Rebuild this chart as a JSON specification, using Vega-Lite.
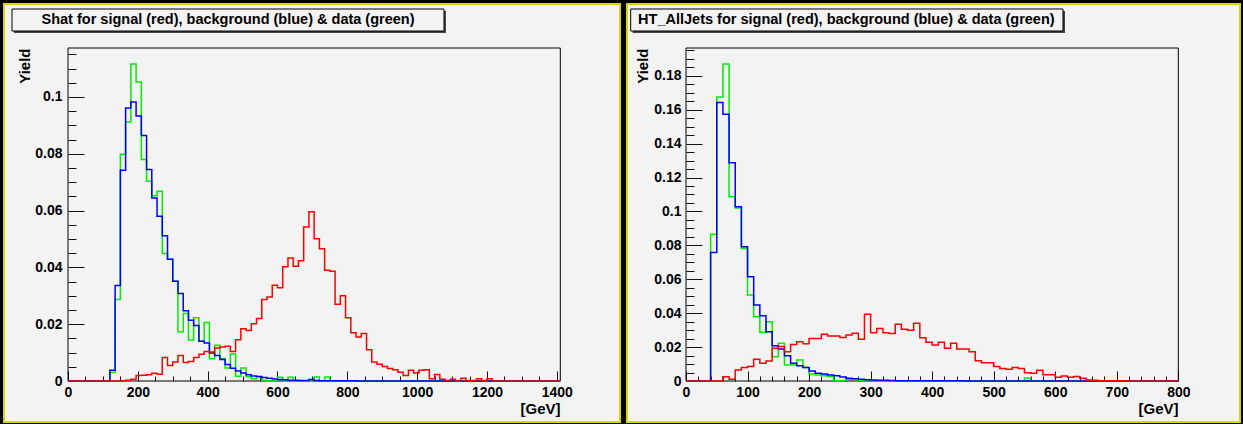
{
  "$schema": "https://vega.github.io/schema/vega-lite/v6.json",
  "background": "#000000",
  "padding": {"left": 3, "top": 3, "right": 2, "bottom": 1},
  "autosize": {"type": "pad"},
  "spacing": 5,
  "config": {
    "view": {"fill": "#f3f3f3", "stroke": "#d8d800", "strokeWidth": 2},
    "axis": {
      "labelFont": "Liberation Sans", "labelFontWeight": "bold", "labelFontSize": 14, "labelColor": "#000000",
      "titleFont": "Liberation Sans", "titleFontWeight": "bold", "titleFontSize": 15, "titleColor": "#000000",
      "grid": false, "labelFlush": false, "labelOverlap": false, "labelBound": false,
      "tickColor": "#111111", "tickWidth": 1
    }
  },
  "datasets": {
    "left": [
      {"e":0,"r":0,"b":0,"g":0},{"e":15,"r":0,"b":0,"g":0},{"e":30,"r":0,"b":0,"g":0},{"e":45,"r":0,"b":0,"g":0},
      {"e":60,"r":0,"b":0,"g":0},{"e":75,"r":0,"b":0,"g":0},{"e":90,"r":0,"b":0,"g":0},{"e":105,"r":0,"b":0,"g":0},
      {"e":120,"r":0,"b":0.0038,"g":0.0030},{"e":135,"r":0,"b":0.0336,"g":0.0287},{"e":150,"r":0,"b":0.0742,"g":0.0798},
      {"e":165,"r":0.0003,"b":0.0961,"g":0.0912},{"e":180,"r":0.0006,"b":0.0982,"g":0.1116},{"e":195,"r":0.0019,"b":0.0933,"g":0.1053},
      {"e":210,"r":0.0020,"b":0.0864,"g":0.0780},{"e":225,"r":0.0022,"b":0.0745,"g":0.0703},{"e":240,"r":0.0027,"b":0.0644,"g":0.0652},
      {"e":255,"r":0.0024,"b":0.0580,"g":0.0668},{"e":270,"r":0.0083,"b":0.0511,"g":0.0449},{"e":285,"r":0.0055,"b":0.0429,"g":0.0429},
      {"e":300,"r":0.0067,"b":0.0351,"g":0.0351},{"e":315,"r":0.0090,"b":0.0308,"g":0.0173},{"e":330,"r":0.0065,"b":0.0247,"g":0.0238},
      {"e":345,"r":0.0069,"b":0.0214,"g":0.0144},{"e":360,"r":0.0083,"b":0.0195,"g":0.0223},{"e":375,"r":0.0094,"b":0.0140,"g":0.0140},
      {"e":390,"r":0.0104,"b":0.0134,"g":0.0206},{"e":405,"r":0.0102,"b":0.0099,"g":0.0078},{"e":420,"r":0.0116,"b":0.0090,"g":0.0126},
      {"e":435,"r":0.0120,"b":0.0076,"g":0.0079},{"e":450,"r":0.0122,"b":0.0058,"g":0.0046},{"e":465,"r":0.0104,"b":0.0045,"g":0.0095},
      {"e":480,"r":0.0145,"b":0.0035,"g":0.0017},{"e":495,"r":0.0184,"b":0.0028,"g":0.0046},{"e":510,"r":0.0178,"b":0.0022,"g":0.0015},
      {"e":525,"r":0.0202,"b":0.0018,"g":0.0008},{"e":540,"r":0.0220,"b":0.0016,"g":0.0015},{"e":555,"r":0.0287,"b":0.0012,"g":0.0003},
      {"e":570,"r":0.0296,"b":0.0010,"g":0},{"e":585,"r":0.0337,"b":0.0007,"g":0},{"e":600,"r":0.0328,"b":0.0005,"g":0.0013},
      {"e":615,"r":0.0402,"b":0.0004,"g":0},{"e":630,"r":0.0433,"b":0.0003,"g":0.0013},{"e":645,"r":0.0404,"b":0.0003,"g":0},
      {"e":660,"r":0.0423,"b":0.0002,"g":0},{"e":675,"r":0.0542,"b":0.0002,"g":0},{"e":690,"r":0.0596,"b":0.0005,"g":0},
      {"e":705,"r":0.0501,"b":0.0002,"g":0.0014},{"e":720,"r":0.0466,"b":0.0001,"g":0},{"e":735,"r":0.0390,"b":0.0001,"g":0.0014},
      {"e":750,"r":0.0386,"b":0.0001,"g":0},{"e":765,"r":0.0270,"b":0.0001,"g":0},{"e":780,"r":0.0300,"b":0.0001,"g":0},
      {"e":795,"r":0.0223,"b":0.0001,"g":0},{"e":810,"r":0.0170,"b":0.0001,"g":0},{"e":825,"r":0.0155,"b":0,"g":0},
      {"e":840,"r":0.0167,"b":0,"g":0},{"e":855,"r":0.0110,"b":0,"g":0},{"e":870,"r":0.0067,"b":0,"g":0},
      {"e":885,"r":0.0059,"b":0,"g":0},{"e":900,"r":0.0051,"b":0,"g":0},{"e":915,"r":0.0044,"b":0,"g":0},
      {"e":930,"r":0.0040,"b":0,"g":0},{"e":945,"r":0.0031,"b":0,"g":0},{"e":960,"r":0.0019,"b":0,"g":0},
      {"e":975,"r":0.0038,"b":0,"g":0},{"e":990,"r":0.0028,"b":0,"g":0},{"e":1005,"r":0.0038,"b":0,"g":0},
      {"e":1020,"r":0.0040,"b":0,"g":0},{"e":1035,"r":0.0008,"b":0,"g":0},{"e":1050,"r":0.0023,"b":0,"g":0},
      {"e":1065,"r":0.0006,"b":0,"g":0},{"e":1080,"r":0.0002,"b":0,"g":0},{"e":1095,"r":0.0006,"b":0,"g":0},
      {"e":1110,"r":0,"b":0,"g":0},{"e":1125,"r":0.0010,"b":0,"g":0},{"e":1140,"r":0.0002,"b":0,"g":0},
      {"e":1155,"r":0.0002,"b":0,"g":0},{"e":1170,"r":0.0008,"b":0,"g":0},{"e":1185,"r":0.0002,"b":0,"g":0},
      {"e":1200,"r":0.0008,"b":0,"g":0},{"e":1215,"r":0,"b":0,"g":0},{"e":1230,"r":0,"b":0,"g":0},
      {"e":1245,"r":0,"b":0,"g":0},{"e":1260,"r":0,"b":0,"g":0},{"e":1275,"r":0,"b":0,"g":0},
      {"e":1290,"r":0,"b":0,"g":0},{"e":1305,"r":0,"b":0,"g":0},{"e":1320,"r":0,"b":0,"g":0},
      {"e":1335,"r":0,"b":0,"g":0},{"e":1350,"r":0,"b":0,"g":0},{"e":1365,"r":0,"b":0,"g":0},
      {"e":1380,"r":0,"b":0,"g":0},{"e":1395,"r":0,"b":0,"g":0},{"e":1410,"r":0,"b":0,"g":0}
    ],
    "right": [
      {"e":0,"r":0,"b":0,"g":0},{"e":10,"r":0,"b":0,"g":0},{"e":20,"r":0,"b":0,"g":0},{"e":30,"r":0,"b":0,"g":0},
      {"e":40,"r":0,"b":0.0758,"g":0.0866},{"e":50,"r":0,"b":0.1642,"g":0.1675},{"e":60,"r":0.0025,"b":0.1573,"g":0.1870},
      {"e":70,"r":0.0010,"b":0.1287,"g":0.1086},{"e":80,"r":0.0065,"b":0.1027,"g":0.1021},{"e":90,"r":0.0079,"b":0.0792,"g":0.0782},
      {"e":100,"r":0.0085,"b":0.0615,"g":0.0507},{"e":110,"r":0.0128,"b":0.0448,"g":0.0379},{"e":120,"r":0.0104,"b":0.0385,"g":0.0287},
      {"e":130,"r":0.0118,"b":0.0291,"g":0.0350},{"e":140,"r":0.0193,"b":0.0208,"g":0.0143},{"e":150,"r":0.0203,"b":0.0188,"g":0.0222},
      {"e":160,"r":0.0173,"b":0.0149,"g":0.0094},{"e":170,"r":0.0215,"b":0.0104,"g":0.0094},{"e":180,"r":0.0231,"b":0.0090,"g":0.0124},
      {"e":190,"r":0.0220,"b":0.0080,"g":0.0080},{"e":200,"r":0.0251,"b":0.0059,"g":0.0041},{"e":210,"r":0.0251,"b":0.0045,"g":0.0035},
      {"e":220,"r":0.0275,"b":0.0041,"g":0.0031},{"e":230,"r":0.0265,"b":0.0035,"g":0.0026},{"e":240,"r":0.0265,"b":0.0031,"g":0.0003},
      {"e":250,"r":0.0257,"b":0.0024,"g":0.0003},{"e":260,"r":0.0271,"b":0.0016,"g":0.0010},{"e":270,"r":0.0281,"b":0.0014,"g":0.0012},
      {"e":280,"r":0.0246,"b":0.0010,"g":0.0004},{"e":290,"r":0.0393,"b":0.0008,"g":0.0003},{"e":300,"r":0.0285,"b":0.0006,"g":0},
      {"e":310,"r":0.0310,"b":0.0005,"g":0},{"e":320,"r":0.0285,"b":0.0004,"g":0},{"e":330,"r":0.0280,"b":0.0003,"g":0},
      {"e":340,"r":0.0335,"b":0.0002,"g":0},{"e":350,"r":0.0305,"b":0.0002,"g":0},{"e":360,"r":0.0300,"b":0.0002,"g":0},
      {"e":370,"r":0.0340,"b":0.0002,"g":0},{"e":380,"r":0.0255,"b":0.0002,"g":0},{"e":390,"r":0.0228,"b":0.0002,"g":0},
      {"e":400,"r":0.0212,"b":0.0002,"g":0},{"e":410,"r":0.0228,"b":0.0001,"g":0},{"e":420,"r":0.0193,"b":0.0001,"g":0},
      {"e":430,"r":0.0222,"b":0.0001,"g":0},{"e":440,"r":0.0188,"b":0.0001,"g":0},{"e":450,"r":0.0188,"b":0,"g":0},
      {"e":460,"r":0.0173,"b":0,"g":0},{"e":470,"r":0.0120,"b":0,"g":0},{"e":480,"r":0.0108,"b":0,"g":0},
      {"e":490,"r":0.0108,"b":0,"g":0},{"e":500,"r":0.0086,"b":0,"g":0},{"e":510,"r":0.0073,"b":0,"g":0},
      {"e":520,"r":0.0069,"b":0,"g":0},{"e":530,"r":0.0079,"b":0,"g":0},{"e":540,"r":0.0073,"b":0,"g":0},
      {"e":550,"r":0.0049,"b":0,"g":0.0018},{"e":560,"r":0.0045,"b":0,"g":0},{"e":570,"r":0.0063,"b":0,"g":0},
      {"e":580,"r":0.0037,"b":0,"g":0},{"e":590,"r":0.0037,"b":0,"g":0},{"e":600,"r":0.0022,"b":0,"g":0},
      {"e":610,"r":0.0029,"b":0,"g":0},{"e":620,"r":0.0022,"b":0,"g":0},{"e":630,"r":0.0026,"b":0,"g":0},
      {"e":640,"r":0.0016,"b":0,"g":0},{"e":650,"r":0.0006,"b":0,"g":0},{"e":660,"r":0.0004,"b":0,"g":0},
      {"e":670,"r":0.0002,"b":0,"g":0},{"e":680,"r":0.0002,"b":0,"g":0},{"e":690,"r":0.0002,"b":0,"g":0},
      {"e":700,"r":0.0001,"b":0,"g":0},{"e":710,"r":0.0002,"b":0,"g":0},{"e":720,"r":0,"b":0,"g":0},
      {"e":730,"r":0,"b":0,"g":0},{"e":740,"r":0,"b":0,"g":0},{"e":750,"r":0,"b":0,"g":0},
      {"e":760,"r":0,"b":0,"g":0},{"e":770,"r":0,"b":0,"g":0},{"e":780,"r":0,"b":0,"g":0},
      {"e":790,"r":0,"b":0,"g":0},{"e":800,"r":0,"b":0,"g":0}
    ]
  },
  "hconcat": [
    {
      "width": 616, "height": 418,
      "data": {"name": "left"},
      "resolve": {"axis": {"x": "independent", "y": "independent"}},
      "layer": [
        {
          "data": {"values": [{}]},
          "mark": {"type": "rect", "fill": "#444444"},
          "encoding": {
            "x": {"datum": -154.7, "type": "quantitative", "scale": {"domain": [0, 1410], "range": [64, 556.3], "nice": false, "zero": false}, "axis": null},
            "x2": {"datum": 1082.6},
            "y": {"datum": 0.13028, "type": "quantitative", "scale": {"domain": [0, 0.11725], "range": [377, 44], "nice": false, "zero": false}, "axis": null},
            "y2": {"datum": 0.12253}
          }
        },
        {
          "data": {"values": [{}]},
          "mark": {"type": "rect", "fill": "#f3f3f3", "stroke": "#000000", "strokeWidth": 1},
          "encoding": {
            "x": {"datum": -160.4, "type": "quantitative", "scale": {"domain": [0, 1410], "range": [64, 556.3], "nice": false, "zero": false}, "axis": null},
            "x2": {"datum": 1076.9},
            "y": {"datum": 0.13098, "type": "quantitative", "scale": {"domain": [0, 0.11725], "range": [377, 44], "nice": false, "zero": false}, "axis": null},
            "y2": {"datum": 0.12323}
          }
        },
        {
          "data": {"values": [{}]},
          "mark": {"type": "text", "text": "Shat for signal (red), background (blue) & data (green)", "font": "Liberation Sans", "fontWeight": "bold", "fontSize": 14.5, "align": "center", "baseline": "middle", "color": "#000000"},
          "encoding": {
            "x": {"datum": 458.3, "type": "quantitative", "scale": {"domain": [0, 1410], "range": [64, 556.3], "nice": false, "zero": false}, "axis": null},
            "y": {"datum": 0.12711, "type": "quantitative", "scale": {"domain": [0, 0.11725], "range": [377, 44], "nice": false, "zero": false}, "axis": null}
          }
        },
        {
          "data": {"values": [{}]},
          "mark": {"type": "rect", "fillOpacity": 0, "stroke": "#000000", "strokeWidth": 1},
          "encoding": {
            "x": {"datum": 0, "type": "quantitative", "scale": {"domain": [0, 1410], "range": [64, 556.3], "nice": false, "zero": false},
              "axis": {"orient": "bottom", "offset": -41, "values": [0, 200, 400, 600, 800, 1000, 1200, 1400], "ticks": false, "domain": false, "labelPadding": 4, "labelBaseline": "top", "format": "d",
                "title": "[GeV]", "titleX": 556, "titleY": 27, "titleAlign": "right", "titleBaseline": "middle", "titleAngle": 0}},
            "x2": {"datum": 1410},
            "y": {"datum": 0, "type": "quantitative", "scale": {"domain": [0, 0.11725], "range": [377, 44], "nice": false, "zero": false},
              "axis": {"orient": "left", "offset": -64, "values": [0, 0.02, 0.04, 0.06, 0.08, 0.1], "ticks": false, "domain": false, "labelPadding": 6, "labelExpr": "format(datum.value, '~g')",
                "title": "Yield", "titleX": -44, "titleY": 44, "titleAngle": -90, "titleAlign": "right", "titleBaseline": "middle"}},
            "y2": {"datum": 0.11725}
          }
        },
        {
          "mark": {"type": "line", "interpolate": "step-after", "color": "#00ee00", "strokeWidth": 1.5},
          "encoding": {
            "x": {"field": "e", "type": "quantitative", "scale": {"domain": [0, 1410], "range": [64, 556.3], "nice": false, "zero": false},
              "axis": {"orient": "bottom", "offset": -41, "values": [0, 200, 400, 600, 800, 1000, 1200, 1400], "labels": false, "domain": false, "tickSize": -10, "title": null}},
            "y": {"field": "g", "type": "quantitative", "scale": {"domain": [0, 0.11725], "range": [377, 44], "nice": false, "zero": false},
              "axis": {"orient": "left", "offset": -64, "values": [0, 0.02, 0.04, 0.06, 0.08, 0.1], "labels": false, "domain": false, "tickSize": -16, "title": null}}
          }
        },
        {
          "mark": {"type": "line", "interpolate": "step-after", "color": "#0000ff", "strokeWidth": 1.5},
          "encoding": {
            "x": {"field": "e", "type": "quantitative", "scale": {"domain": [0, 1410], "range": [64, 556.3], "nice": false, "zero": false},
              "axis": {"orient": "bottom", "offset": -41, "values": [50, 100, 150, 250, 300, 350, 450, 500, 550, 650, 700, 750, 850, 900, 950, 1050, 1100, 1150, 1250, 1300, 1350], "labels": false, "domain": false, "tickSize": -5, "title": null}},
            "y": {"field": "b", "type": "quantitative", "scale": {"domain": [0, 0.11725], "range": [377, 44], "nice": false, "zero": false},
              "axis": {"orient": "left", "offset": -64, "values": [0.005, 0.01, 0.015, 0.025, 0.03, 0.035, 0.045, 0.05, 0.055, 0.065, 0.07, 0.075, 0.085, 0.09, 0.095, 0.105, 0.11, 0.115], "labels": false, "domain": false, "tickSize": -8, "title": null}}
          }
        },
        {
          "mark": {"type": "line", "interpolate": "step-after", "color": "#ff0000", "strokeWidth": 1.5},
          "encoding": {
            "x": {"field": "e", "type": "quantitative", "scale": {"domain": [0, 1410], "range": [64, 556.3], "nice": false, "zero": false}, "axis": null},
            "y": {"field": "r", "type": "quantitative", "scale": {"domain": [0, 0.11725], "range": [377, 44], "nice": false, "zero": false}, "axis": null}
          }
        }
      ]
    },
    {
      "width": 613, "height": 418,
      "data": {"name": "right"},
      "resolve": {"axis": {"x": "independent", "y": "independent"}},
      "layer": [
        {
          "data": {"values": [{}]},
          "mark": {"type": "rect", "fill": "#444444"},
          "encoding": {
            "x": {"datum": -86.6, "type": "quantitative", "scale": {"domain": [0, 800], "range": [59, 551.3], "nice": false, "zero": false}, "axis": null},
            "x2": {"datum": 615.9},
            "y": {"datum": 0.21823, "type": "quantitative", "scale": {"domain": [0, 0.1964], "range": [377, 44], "nice": false, "zero": false}, "axis": null},
            "y2": {"datum": 0.20525}
          }
        },
        {
          "data": {"values": [{}]},
          "mark": {"type": "rect", "fill": "#f3f3f3", "stroke": "#000000", "strokeWidth": 1},
          "encoding": {
            "x": {"datum": -89.9, "type": "quantitative", "scale": {"domain": [0, 800], "range": [59, 551.3], "nice": false, "zero": false}, "axis": null},
            "x2": {"datum": 612.6},
            "y": {"datum": 0.21941, "type": "quantitative", "scale": {"domain": [0, 0.1964], "range": [377, 44], "nice": false, "zero": false}, "axis": null},
            "y2": {"datum": 0.20643}
          }
        },
        {
          "data": {"values": [{}]},
          "mark": {"type": "text", "text": "HT_AllJets for signal (red), background (blue) & data (green)", "font": "Liberation Sans", "fontWeight": "bold", "fontSize": 14.5, "align": "center", "baseline": "middle", "color": "#000000"},
          "encoding": {
            "x": {"datum": 260.6, "type": "quantitative", "scale": {"domain": [0, 800], "range": [59, 551.3], "nice": false, "zero": false}, "axis": null},
            "y": {"datum": 0.21292, "type": "quantitative", "scale": {"domain": [0, 0.1964], "range": [377, 44], "nice": false, "zero": false}, "axis": null}
          }
        },
        {
          "data": {"values": [{}]},
          "mark": {"type": "rect", "fillOpacity": 0, "stroke": "#000000", "strokeWidth": 1},
          "encoding": {
            "x": {"datum": 0, "type": "quantitative", "scale": {"domain": [0, 800], "range": [59, 551.3], "nice": false, "zero": false},
              "axis": {"orient": "bottom", "offset": -41, "values": [0, 100, 200, 300, 400, 500, 600, 700, 800], "ticks": false, "domain": false, "labelPadding": 4, "labelBaseline": "top", "format": "d",
                "title": "[GeV]", "titleX": 551, "titleY": 27, "titleAlign": "right", "titleBaseline": "middle", "titleAngle": 0}},
            "x2": {"datum": 800},
            "y": {"datum": 0, "type": "quantitative", "scale": {"domain": [0, 0.1964], "range": [377, 44], "nice": false, "zero": false},
              "axis": {"orient": "left", "offset": -59, "values": [0, 0.02, 0.04, 0.06, 0.08, 0.1, 0.12, 0.14, 0.16, 0.18], "ticks": false, "domain": false, "labelPadding": 5, "labelExpr": "format(datum.value, '~g')",
                "title": "Yield", "titleX": -44, "titleY": 44, "titleAngle": -90, "titleAlign": "right", "titleBaseline": "middle"}},
            "y2": {"datum": 0.1964}
          }
        },
        {
          "mark": {"type": "line", "interpolate": "step-after", "color": "#00ee00", "strokeWidth": 1.5},
          "encoding": {
            "x": {"field": "e", "type": "quantitative", "scale": {"domain": [0, 800], "range": [59, 551.3], "nice": false, "zero": false},
              "axis": {"orient": "bottom", "offset": -41, "values": [0, 100, 200, 300, 400, 500, 600, 700, 800], "labels": false, "domain": false, "tickSize": -10, "title": null}},
            "y": {"field": "g", "type": "quantitative", "scale": {"domain": [0, 0.1964], "range": [377, 44], "nice": false, "zero": false},
              "axis": {"orient": "left", "offset": -59, "values": [0, 0.02, 0.04, 0.06, 0.08, 0.1, 0.12, 0.14, 0.16, 0.18], "labels": false, "domain": false, "tickSize": -16, "title": null}}
          }
        },
        {
          "mark": {"type": "line", "interpolate": "step-after", "color": "#0000ff", "strokeWidth": 1.5},
          "encoding": {
            "x": {"field": "e", "type": "quantitative", "scale": {"domain": [0, 800], "range": [59, 551.3], "nice": false, "zero": false},
              "axis": {"orient": "bottom", "offset": -41, "values": [20, 40, 60, 80, 120, 140, 160, 180, 220, 240, 260, 280, 320, 340, 360, 380, 420, 440, 460, 480, 520, 540, 560, 580, 620, 640, 660, 680, 720, 740, 760, 780], "labels": false, "domain": false, "tickSize": -5, "title": null}},
            "y": {"field": "b", "type": "quantitative", "scale": {"domain": [0, 0.1964], "range": [377, 44], "nice": false, "zero": false},
              "axis": {"orient": "left", "offset": -59, "values": [0.005, 0.01, 0.015, 0.025, 0.03, 0.035, 0.045, 0.05, 0.055, 0.065, 0.07, 0.075, 0.085, 0.09, 0.095, 0.105, 0.11, 0.115, 0.125, 0.13, 0.135, 0.145, 0.15, 0.155, 0.165, 0.17, 0.175, 0.185, 0.19, 0.195], "labels": false, "domain": false, "tickSize": -8, "title": null}}
          }
        },
        {
          "mark": {"type": "line", "interpolate": "step-after", "color": "#ff0000", "strokeWidth": 1.5},
          "encoding": {
            "x": {"field": "e", "type": "quantitative", "scale": {"domain": [0, 800], "range": [59, 551.3], "nice": false, "zero": false}, "axis": null},
            "y": {"field": "r", "type": "quantitative", "scale": {"domain": [0, 0.1964], "range": [377, 44], "nice": false, "zero": false}, "axis": null}
          }
        }
      ]
    }
  ]
}
